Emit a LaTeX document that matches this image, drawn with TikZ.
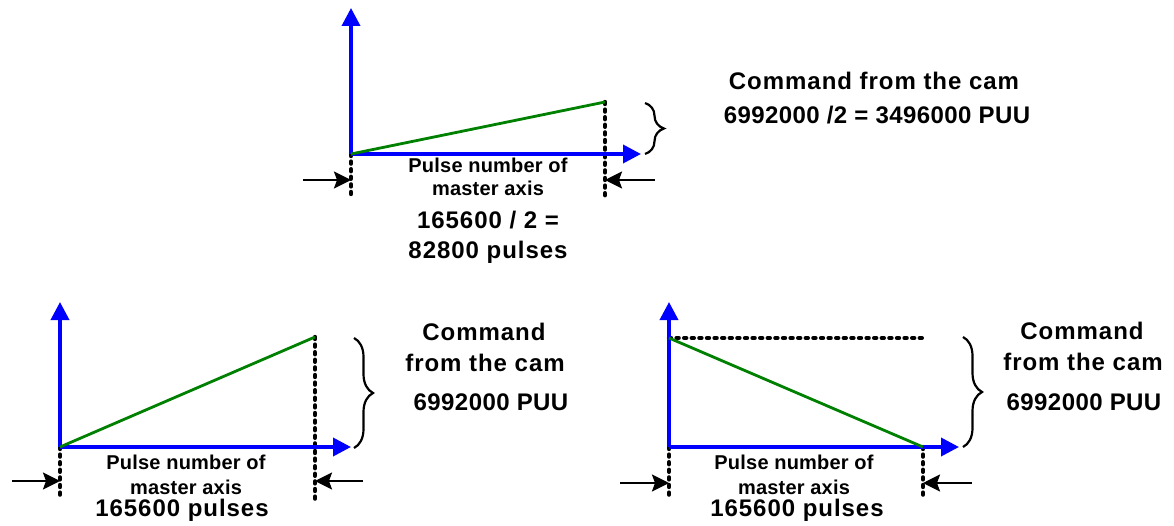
\documentclass[tikz,border=0pt]{standalone}
\usepackage{fontspec}
\setmainfont{Liberation Sans}
\usetikzlibrary{arrows.meta,decorations.pathreplacing}
\definecolor{axblue}{RGB}{0,0,255}
\definecolor{cgreen}{RGB}{0,128,0}
\tikzset{
  axis/.style={draw=axblue,line width=3.6pt,-{Triangle[length=18pt,width=18pt]}},
  camline/.style={draw=cgreen,line width=2.8pt},
  dots/.style={draw=black,line width=4.4pt,line cap=round,dash pattern=on 2pt off 5.6pt},
  marker/.style={draw=black,line width=2.4pt,-{Stealth[length=17pt,width=17pt,inset=3pt]}},
  bracelike/.style={draw=black,line width=2.2pt,decorate,decoration={brace,amplitude=19pt}},
  small/.style={font=\bfseries\fontsize{20}{24}\selectfont\addfontfeatures{LetterSpace=1},inner sep=0pt},
  big/.style={font=\bfseries\fontsize{24}{28}\selectfont\addfontfeatures{LetterSpace=4},inner sep=0pt},
  bigtight/.style={font=\bfseries\fontsize{24}{28}\selectfont\addfontfeatures{LetterSpace=1.8},inner sep=0pt},
}
\begin{document}
\begin{tikzpicture}[x=1pt,y=-1pt]
\useasboundingbox (0,0) rectangle (1174,526);
% ---------- top diagram ----------
\coordinate (o1) at (351,154);
\coordinate (y1) at (351,8);
\coordinate (x1) at (641,154);
\coordinate (e1) at (605,102);
\coordinate (e1b) at (605,200);
\coordinate (o1b) at (351,198);
\coordinate (la1) at (303,180);
\coordinate (lt1) at (351,180);
\coordinate (ra1) at (655,180);
\coordinate (rt1) at (605,180);
\coordinate (bt1) at (645,103);
\coordinate (bb1) at (645,154);
\draw[dots] (e1) -- (e1b);
\draw[dots] (o1) -- (o1b);
\draw[axis] (o1) -- (y1);
\draw[axis] (o1) -- (x1);
\draw[camline] (o1) -- (e1);
\draw[marker] (la1) -- (lt1);
\draw[marker] (ra1) -- (rt1);
\draw[bracelike] (bt1) -- (bb1);
\node[small] (t1a) at (488,165) {Pulse number of};
\node[small] (t1b) at (488,188) {master axis};
\node[big] (t1c) at (488,220) {165600 / 2 =};
\node[big] (t1d) at (488,252) {82800 pulses};
\node[big] (c1a) at (874,81) {Command from the cam};
\node[bigtight] (c1b) at (877,115) {6992000 /2 = 3496000 PUU};
% ---------- bottom left ----------
\coordinate (o2) at (60,447);
\coordinate (y2) at (60,302);
\coordinate (x2) at (351,447);
\coordinate (e2) at (315,337);
\coordinate (e2b) at (315,500);
\coordinate (o2b) at (60,500);
\coordinate (la2) at (12,481);
\coordinate (lt2) at (60,481);
\coordinate (ra2) at (363,481);
\coordinate (rt2) at (315,481);
\coordinate (bt2) at (354,338);
\coordinate (bb2) at (354,448);
\draw[dots] (e2) -- (e2b);
\draw[dots] (o2) -- (o2b);
\draw[axis] (o2) -- (y2);
\draw[axis] (o2) -- (x2);
\draw[camline] (o2) -- (e2);
\draw[marker] (la2) -- (lt2);
\draw[marker] (ra2) -- (rt2);
\draw[bracelike] (bt2) -- (bb2);
\node[small] (t2a) at (186,462) {Pulse number of};
\node[small] (t2b) at (186,487) {master axis};
\node[big] (t2c) at (182,510) {165600 pulses};
\node[big] (c2a) at (484,332) {Command};
\node[big] (c2b) at (485,363) {from the cam};
\node[bigtight] (c2c) at (491,402) {6992000 PUU};
% ---------- bottom right ----------
\coordinate (o3) at (669,447);
\coordinate (y3) at (669,302);
\coordinate (x3) at (959,447);
\coordinate (s3) at (669,338);
\coordinate (d3) at (925,338);
\coordinate (e3) at (923,447);
\coordinate (e3b) at (923,498);
\coordinate (o3b) at (669,497);
\coordinate (la3) at (620,483);
\coordinate (lt3) at (669,483);
\coordinate (ra3) at (972,483);
\coordinate (rt3) at (923,483);
\coordinate (bt3) at (963,337);
\coordinate (bb3) at (963,447);
\draw[dots] (s3) -- (d3);
\draw[dots] (e3) -- (e3b);
\draw[dots] (o3) -- (o3b);
\draw[axis] (o3) -- (y3);
\draw[axis] (o3) -- (x3);
\draw[camline] (s3) -- (e3);
\draw[marker] (la3) -- (lt3);
\draw[marker] (ra3) -- (rt3);
\draw[bracelike] (bt3) -- (bb3);
\node[small] (t3a) at (794,462) {Pulse number of};
\node[small] (t3b) at (794,487) {master axis};
\node[big] (t3c) at (797,510) {165600 pulses};
\node[big] (c3a) at (1082,331) {Command};
\node[big] (c3b) at (1083,362) {from the cam};
\node[bigtight] (c3c) at (1084,402) {6992000 PUU};
\end{tikzpicture}
\end{document}
